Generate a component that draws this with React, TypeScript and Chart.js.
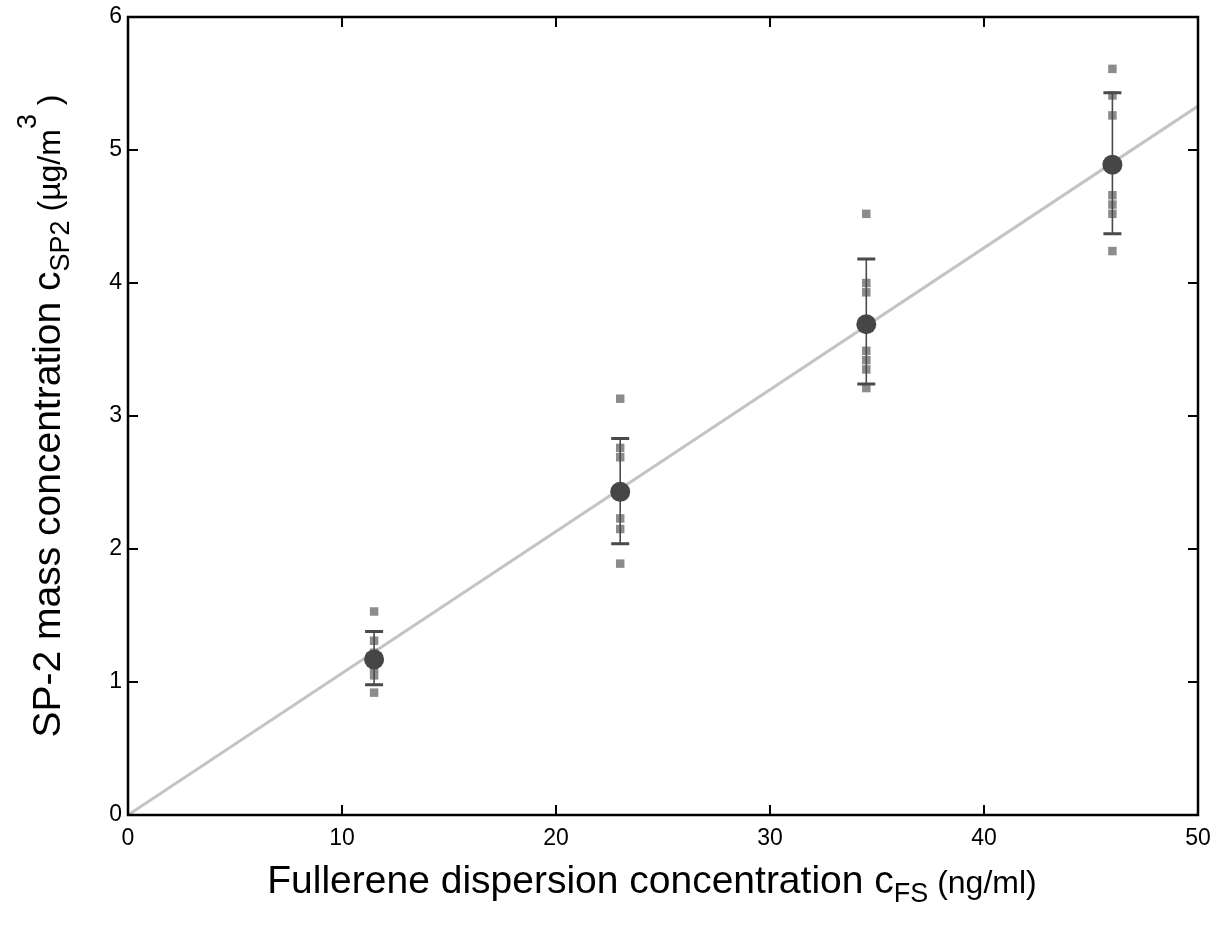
import React, { useEffect, useRef } from "react";
import { Chart, registerables } from "chart.js";

Chart.register(...registerables);

const xCats = [11.5, 23, 34.5, 46];
const meanVals = [1.17, 2.43, 3.69, 4.89];
const errLow = [0.98, 2.04, 3.24, 4.37];
const errHigh = [1.38, 2.83, 4.18, 5.43];
const rep1 = [1.53, 1.31, 1.22, 1.15, 1.1, 1.05, 0.92];
const rep2 = [3.13, 2.76, 2.69, 2.45, 2.23, 2.15, 1.89];
const rep3 = [4.52, 4.0, 3.93, 3.49, 3.42, 3.35, 3.21];
const rep4 = [5.61, 5.41, 5.26, 4.66, 4.59, 4.52, 4.24];
const fitX = [0, 50];
const fitY = [0, 5.33];
const xTicks = [0, 10, 20, 30, 40, 50];
const yTicks = [0, 1, 2, 3, 4, 5, 6];

const FONT = "'Liberation Sans', Arial, Helvetica, sans-serif";

export default function App() {
  const ref = useRef<HTMLCanvasElement | null>(null);
  useEffect(() => {
    if (!ref.current) return;
    const reps = [rep1, rep2, rep3, rep4];
    const repPoints: { x: number; y: number }[] = [];
    reps.forEach((arr, i) => arr.forEach((v) => repPoints.push({ x: xCats[i], y: v })));

    const errPlugin = {
      id: "errbars",
      afterDatasetDraw(chart: any, args: any) {
        if (args.index !== 1) return;
        const ctx = chart.ctx;
        const xs = chart.scales.x;
        const ys = chart.scales.y;
        ctx.save();
        ctx.strokeStyle = "#4a4a4a";
        for (let i = 0; i < xCats.length; i++) {
          const px = xs.getPixelForValue(xCats[i]);
          const lo = ys.getPixelForValue(errLow[i]);
          const hi = ys.getPixelForValue(errHigh[i]);
          ctx.lineWidth = 1.6;
          ctx.beginPath();
          ctx.moveTo(px, lo);
          ctx.lineTo(px, hi);
          ctx.stroke();
          ctx.lineWidth = 3;
          ctx.beginPath();
          ctx.moveTo(px - 9, lo);
          ctx.lineTo(px + 9, lo);
          ctx.moveTo(px - 9, hi);
          ctx.lineTo(px + 9, hi);
          ctx.stroke();
        }
        ctx.restore();
      },
    };

    const framePlugin = {
      id: "frame",
      afterDraw(chart: any) {
        const ctx = chart.ctx;
        const a = chart.chartArea;
        const xs = chart.scales.x;
        const ys = chart.scales.y;
        ctx.save();
        ctx.strokeStyle = "#000";
        ctx.lineWidth = 2.5;
        ctx.strokeRect(a.left, a.top, a.right - a.left, a.bottom - a.top);
        ctx.lineWidth = 2;
        const tl = 10;
        ctx.beginPath();
        xTicks.forEach((t) => {
          const px = Math.round(xs.getPixelForValue(t));
          ctx.moveTo(px, a.bottom);
          ctx.lineTo(px, a.bottom - tl);
          ctx.moveTo(px, a.top);
          ctx.lineTo(px, a.top + tl);
        });
        yTicks.forEach((t) => {
          const py = Math.round(ys.getPixelForValue(t));
          ctx.moveTo(a.left, py);
          ctx.lineTo(a.left + tl, py);
          ctx.moveTo(a.right, py);
          ctx.lineTo(a.right - tl, py);
        });
        ctx.stroke();

        ctx.fillStyle = "#000";
        ctx.textBaseline = "alphabetic";
        ctx.textAlign = "left";
        const drawRuns = (runs: { t: string; size: number; dy: number }[], cx: number, cy: number, rot: boolean) => {
          let total = 0;
          runs.forEach((r) => {
            ctx.font = `${r.size}px ${FONT}`;
            total += ctx.measureText(r.t).width;
          });
          ctx.save();
          ctx.translate(cx, cy);
          if (rot) ctx.rotate(-Math.PI / 2);
          let x = -total / 2;
          runs.forEach((r) => {
            ctx.font = `${r.size}px ${FONT}`;
            ctx.fillText(r.t, x, r.dy);
            x += ctx.measureText(r.t).width;
          });
          ctx.restore();
        };
        drawRuns(
          [
            { t: "Fullerene dispersion concentration c", size: 39, dy: 0 },
            { t: "FS", size: 27, dy: 9 },
            { t: " (ng/ml)", size: 32, dy: 0 },
          ],
          652,
          893,
          false
        );
        drawRuns(
          [
            { t: "SP-2 mass concentration c", size: 39, dy: 0 },
            { t: "SP2", size: 27, dy: 9 },
            { t: " (\u00b5g/m", size: 32, dy: 0 },
            { t: "3", size: 27, dy: -24 },
            { t: " )", size: 32, dy: 0 },
          ],
          60,
          416,
          true
        );
        ctx.restore();
      },
    };

    const chart = new Chart(ref.current, {
      type: "scatter",
      data: {
        datasets: [
          {
            label: "mean",
            data: xCats.map((x, i) => ({ x, y: meanVals[i] })),
            pointStyle: "circle",
            pointRadius: 10,
            backgroundColor: "#464646",
            borderColor: "#464646",
            borderWidth: 0,
            order: 0,
          },
          {
            label: "replicates",
            data: repPoints,
            pointStyle: "rect",
            pointRadius: 6,
            backgroundColor: "#8c8c8c",
            borderColor: "#8c8c8c",
            borderWidth: 0,
            order: 1,
          },
          {
            label: "fit",
            type: "line",
            data: fitX.map((x, i) => ({ x, y: fitY[i] })),
            borderColor: "#c4c4c4",
            borderWidth: 3,
            pointRadius: 0,
            showLine: true,
            order: 2,
          } as any,
        ],
      },
      options: {
        animation: false,
        responsive: false,
        maintainAspectRatio: false,
        layout: { padding: { top: 17, right: 16, left: 0, bottom: 0 } },
        plugins: { legend: { display: false }, tooltip: { enabled: false } },
        scales: {
          x: {
            type: "linear",
            min: 0,
            max: 50,
            afterBuildTicks: (s: any) => {
              s.ticks = xTicks.map((v) => ({ value: v }));
            },
            afterFit: (s: any) => {
              s.height = 111;
              s.paddingLeft = 0;
              s.paddingRight = 0;
            },
            grid: { display: false, drawTicks: false },
            border: { display: false },
            ticks: {
              padding: 10,
              color: "#000",
              font: { size: 23, family: FONT },
              maxRotation: 0,
            },
          },
          y: {
            type: "linear",
            min: 0,
            max: 6,
            afterBuildTicks: (s: any) => {
              s.ticks = yTicks.map((v) => ({ value: v }));
            },
            afterFit: (s: any) => {
              s.width = 128;
              s.paddingTop = 0;
              s.paddingBottom = 0;
            },
            grid: { display: false, drawTicks: false },
            border: { display: false },
            ticks: {
              padding: 6,
              color: "#000",
              font: { size: 23, family: FONT },
            },
          },
        },
      },
      plugins: [errPlugin, framePlugin],
    });
    return () => chart.destroy();
  }, []);
  return (
    <div style={{ position: "fixed", left: 0, top: 0, width: 1214, height: 926, background: "#fff" }}>
      <canvas ref={ref} width={1214} height={926} style={{ width: 1214, height: 926 }} />
    </div>
  );
}
